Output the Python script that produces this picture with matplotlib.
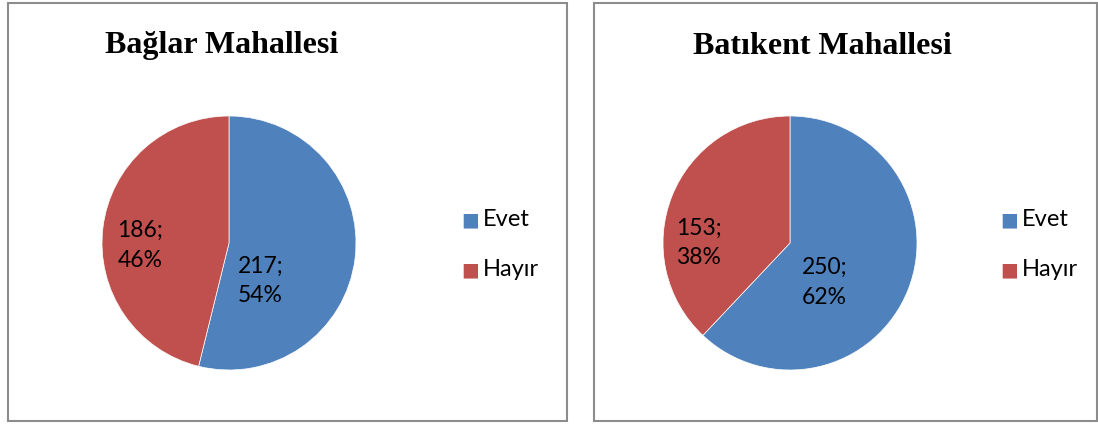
import matplotlib.pyplot as plt
from matplotlib.patches import Rectangle

# data
titles = ['Bağlar Mahallesi', 'Batıkent Mahallesi']
categories = ['Evet', 'Hayır']
bağlar = [217, 186]
batikent = [250, 153]
colors = ['#4F81BD', '#C0504D']

W, H = 1098, 424
fig = plt.figure(figsize=(W / 100, H / 100), dpi=100)

# panel frames (pixels: x0, x1)
for x0, x1 in [(8, 567), (594, 1097)]:
    fig.patches.append(Rectangle((x0 / W, 3 / H), (x1 - x0) / W, 418 / H,
                                 transform=fig.transFigure, fill=False,
                                 edgecolor='#8c8c8c', linewidth=1.5))

def draw(cx, values, title, title_x, label_pos, legend_x):
    r = 127
    ax = fig.add_axes([(cx - r) / W, (H - 243 - r) / H, 2 * r / W, 2 * r / H])
    ax.pie(values, colors=colors, startangle=90, counterclock=False,
           wedgeprops=dict(linewidth=0.5, edgecolor='white'))
    ax.set_xlim(-1, 1)
    ax.set_ylim(-1, 1)
    total = sum(values)
    for v, (lx, ly) in zip(values, label_pos):
        ax.text(lx, ly, f'{v};\n{round(100 * v / total)}%', ha='left', va='center',
                fontsize=16.5, family='Lato', linespacing=1.5)
    fig.text(title_x / W, (H - 46) / H, title, ha='center', va='center',
             fontsize=23, fontweight='bold', family='Liberation Serif')
    for i, (c, col) in enumerate(zip(categories, colors)):
        y = (H - 220 - 50 * i) / H
        fig.text(legend_x / W, y, '■', color=col, fontsize=13.5, ha='left', va='center',
                 family='DejaVu Sans')
        fig.text((legend_x + 22) / W, y, c, fontsize=17, ha='left', va='center',
                 family='Lato')

draw(229, bağlar, titles[0], 222, [(0.07, -0.30), (-0.88, -0.02)], 461)
draw(790, batikent, titles[1], 822, [(0.09, -0.31), (-0.90, 0.0)], 1000)

fig.savefig('out.png', dpi=100)
